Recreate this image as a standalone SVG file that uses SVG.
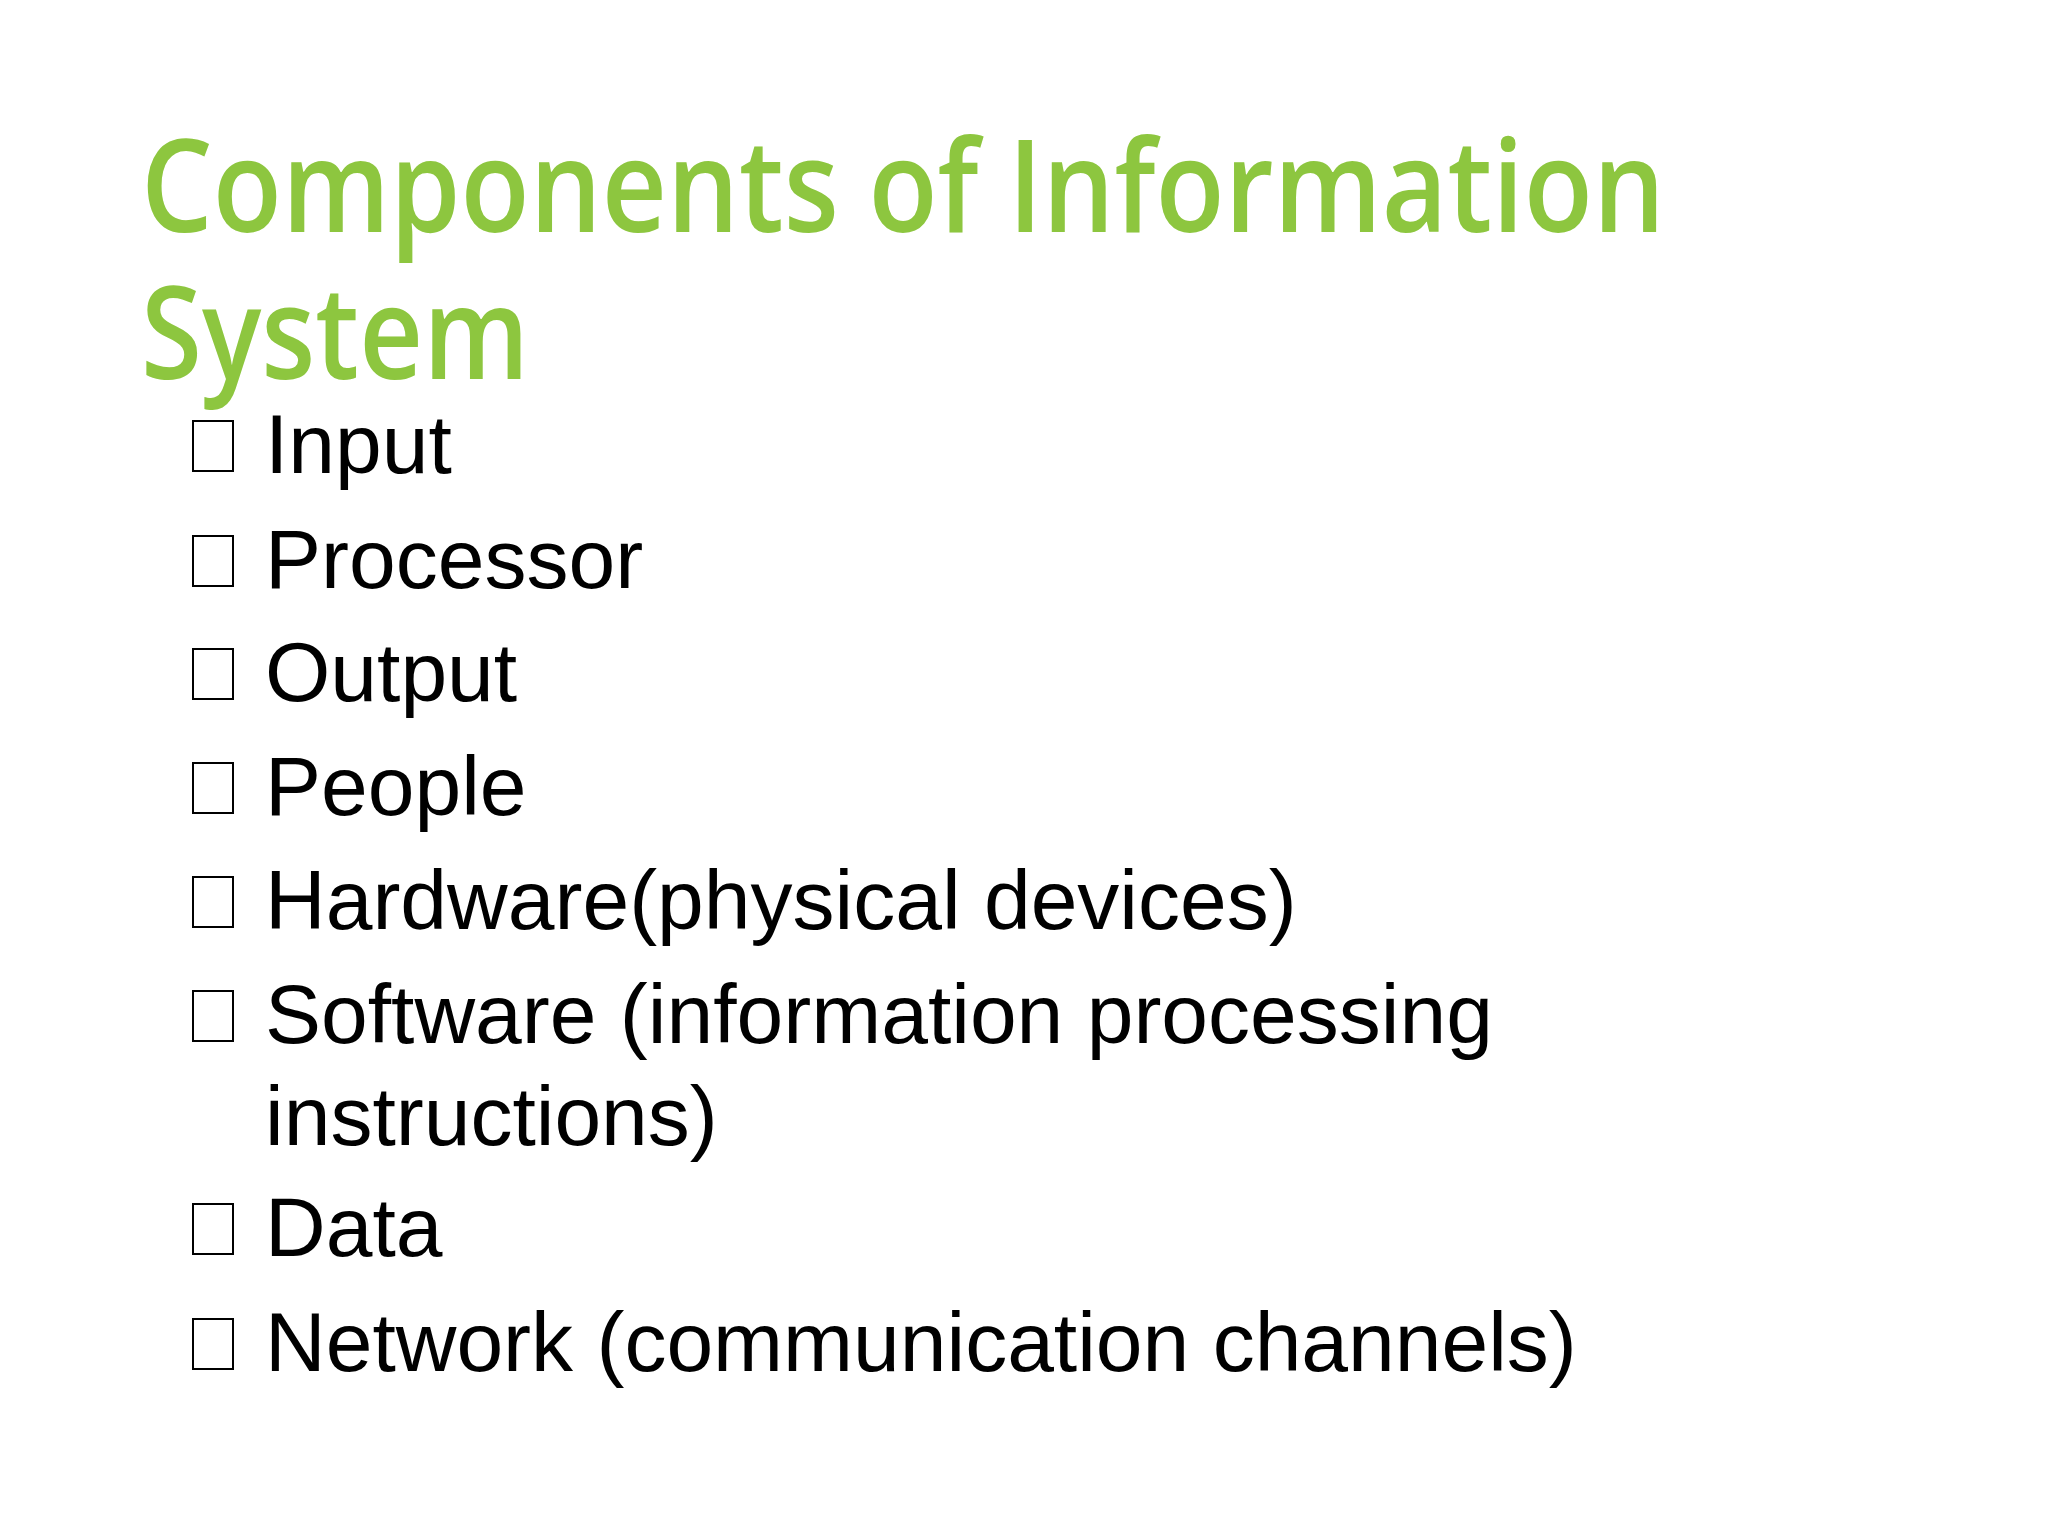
<svg xmlns="http://www.w3.org/2000/svg" width="2048" height="1536" viewBox="0 0 2048 1536">
<style>
.t{font-family:"Open Sans","DejaVu Sans",sans-serif;font-size:128px;font-weight:600;fill:#8DC63F}
.b{font-family:"Liberation Sans",Arial,sans-serif;font-size:84px;fill:#000}
.box{fill:none;stroke:#000;stroke-width:2}
</style>
<rect width="2048" height="1536" fill="#fff"/>
<g id="title">
<text class="t" x="141" y="232" textLength="1524" lengthAdjust="spacingAndGlyphs">Components of Information</text>
<text class="t" x="141" y="379" textLength="388" lengthAdjust="spacingAndGlyphs">System</text>
</g>
<g id="bullets">
<rect class="box" x="193" y="421" width="40" height="50"/><text class="b" x="265" y="473">Input</text>
<rect class="box" x="193" y="536" width="40" height="50"/><text class="b" x="265" y="588">Processor</text>
<rect class="box" x="193" y="649" width="40" height="50"/><text class="b" x="265" y="701">Output</text>
<rect class="box" x="193" y="763" width="40" height="50"/><text class="b" x="265" y="815">People</text>
<rect class="box" x="193" y="877" width="40" height="50"/><text class="b" x="265" y="929">Hardware(physical devices)</text>
<rect class="box" x="193" y="991" width="40" height="50"/><text class="b" x="265" y="1043">Software (information processing</text>
<text class="b" x="265" y="1145">instructions)</text>
<rect class="box" x="193" y="1204" width="40" height="50"/><text class="b" x="265" y="1256">Data</text>
<rect class="box" x="193" y="1319" width="40" height="50"/><text class="b" x="265" y="1371">Network (communication channels)</text>
</g>
</svg>
